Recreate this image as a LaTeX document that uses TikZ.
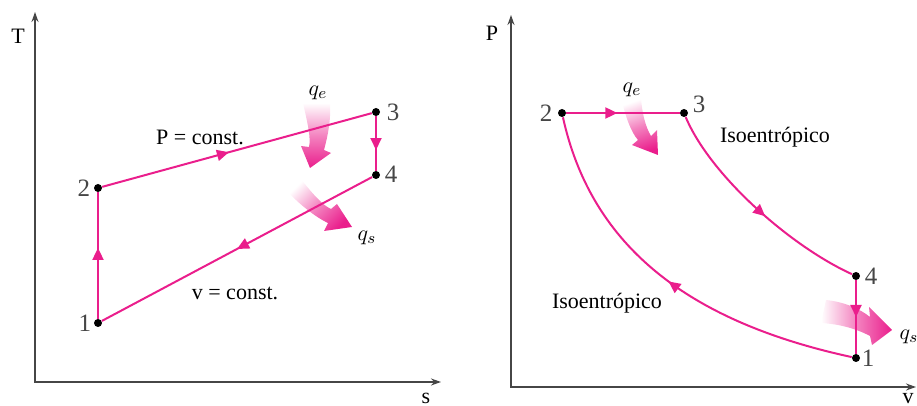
\documentclass[tikz,border=0pt]{standalone}
\usepackage{fontspec}
\setmainfont{Liberation Serif}
\usetikzlibrary{arrows.meta, decorations.markings}
\definecolor{cCycle}{RGB}{234, 30, 140}
\definecolor{cAxis}{RGB}{70, 70, 70}
\definecolor{cNum}{RGB}{70, 70, 70}

\begin{document}
\begin{tikzpicture}[
    x=0.5pt, y=-0.5pt,
    dot/.style={circle, fill=black, inner sep=0pt, minimum size=4pt},
    num/.style={font=\fontsize{12.5}{14}\selectfont, text=cNum, inner sep=1pt},
    lbl/.style={font=\fontsize{11}{13}\selectfont, inner sep=1pt},
    axis/.style={draw=cAxis, line width=0.8pt,
        {Stealth[length=5pt,width=3.5pt]}-{Stealth[length=5pt,width=3.5pt]}},
    proc/.style={draw=cCycle, line width=1pt},
    flow/.style={proc, postaction={decorate},
        decoration={markings, mark=at position #1 with
            {\arrow[cCycle]{Triangle[length=6pt,width=5.5pt]}}}},
    heat/.style={top color=white, bottom color=cCycle,
        middle color=cCycle!55, shading angle=#1}
]
\useasboundingbox (0,0) rectangle (917,406);

% T-s diagram
\coordinate (tTop) at (35,12);
\coordinate (tEnd) at (441,382);
\draw[axis] (tTop) |- (tEnd);
\node[lbl] (tT) at (18,36) {T};
\node[lbl] (tS) at (426,398) {s};

\node[dot] (a1) at (98,323) {};
\node[dot] (a2) at (98,188) {};
\node[dot] (a3) at (376,112) {};
\node[dot] (a4) at (376,175) {};
\node[num] (a1n) at (85,323) {1};
\node[num] (a2n) at (84,188) {2};
\node[num] (a3n) at (393,112) {3};
\node[num] (a4n) at (391,174) {4};

\node[lbl] (pconst) at (200,137) {P = const.};
\node[lbl] (vconst) at (235,293) {v = const.};

\shade[heat=0] (303,103) .. controls (308,125) and (311,138) .. (309,147)
    -- (301,146) -- (310,168) -- (331,153) -- (324,150)
    .. controls (328,135) and (331,120) .. (330,103) -- cycle;
\shade[heat=45] (300,178) .. controls (312,193) and (322,205) .. (331,209)
    -- (337,204) -- (352,227) -- (324,231) -- (328,223)
    .. controls (315,217) and (298,203) .. (287,191) -- cycle;
\node[lbl] (aqe) at (318,93) {$q_e$};
\node[lbl] (aqs) at (367,238) {$q_s$};

\draw[flow=0.56] (a1) -- (a2);
\draw[flow=0.47] (a2) -- (a3);
\draw[flow=0.62] (a3) -- (a4);
\draw[flow=0.5] (a4) -- (a1);

% P-v diagram
\coordinate (pTop) at (511,15);
\coordinate (pEnd) at (916,387);
\draw[axis] (pTop) |- (pEnd);
\node[lbl] (pP) at (492,33) {P};
\node[lbl] (pV) at (908,399) {v};

\node[dot] (b1) at (856,358) {};
\node[dot] (b2) at (562,113) {};
\node[dot] (b3) at (684,113) {};
\node[dot] (b4) at (856,276) {};
\node[num] (b1n) at (868,358) {1};
\node[num] (b2n) at (546,113) {2};
\node[num] (b3n) at (699,104) {3};
\node[num] (b4n) at (871,276) {4};

\node[lbl] (isoUp) at (775,137) {Isoentrópico};
\node[lbl] (isoLo) at (607,303) {Isoentrópico};

\shade[heat=20] (621,98) .. controls (626,118) and (631,132) .. (638,140)
    -- (632,145) -- (658,155) -- (657,130) -- (651,136)
    .. controls (645,126) and (642,112) .. (641,98) -- cycle;
\shade[heat=90] (826,300) .. controls (845,302) and (860,309) .. (870,317)
    -- (869,307) -- (892,330) -- (872,345) -- (870,336)
    .. controls (855,328) and (838,324) .. (821,323) -- cycle;
\node[lbl] (bqe) at (632,90) {$q_e$};
\node[lbl] (bqs) at (909,337) {$q_s$};

\draw[flow=0.45] (b2) -- (b3);
\draw[flow=0.55] (b3) .. controls (710,175) and (790,246) .. (b4);
\draw[flow=0.5] (b4) -- (b1);
\draw[flow=0.5] (b1) .. controls (680,320) and (590,240) .. (b2);

\end{tikzpicture}
\end{document}
